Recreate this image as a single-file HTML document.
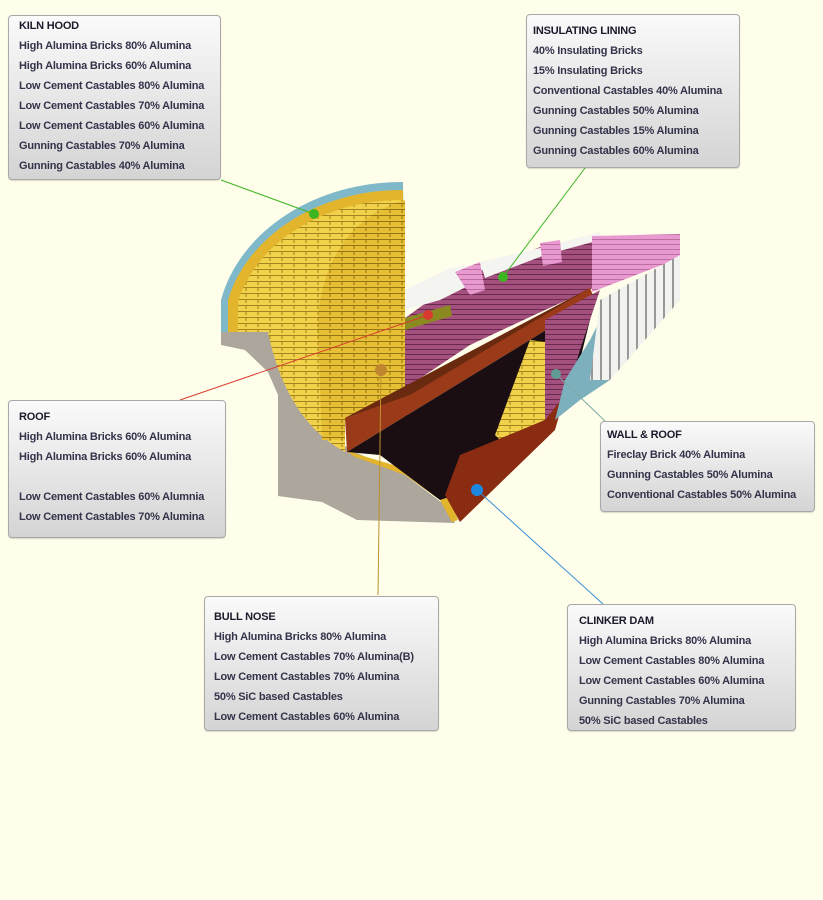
<!DOCTYPE html>
<html><head><meta charset="utf-8"><style>
html,body{margin:0;padding:0;background:#fffeea;}
body{width:823px;height:900px;position:relative;overflow:hidden;font-family:"Liberation Sans",sans-serif;}
.box{position:absolute;box-sizing:border-box;border:1px solid #a8a8a8;border-radius:4px;background:linear-gradient(#fafafa,#d4d4d4);padding:0 0 0 10px;box-shadow:0 1px 1px rgba(0,0,0,.15);}
.box div{height:20px;line-height:20px;font-size:11px;font-weight:bold;color:#33334a;white-space:nowrap;letter-spacing:-0.2px;}
.box div.t{font-weight:900;color:#1a1a2a;}
svg{position:absolute;left:0;top:0;}
</style></head><body>
<svg width="823" height="900" viewBox="0 0 823 900">
<defs>
<pattern id="brk" width="12" height="6" patternUnits="userSpaceOnUse"><rect width="12" height="6" fill="#f1d24a"/><path d="M0 5.5H12M6 0V3" stroke="#8a6d10" stroke-width="0.8"/></pattern>
<pattern id="brk2" width="12" height="6" patternUnits="userSpaceOnUse"><rect width="12" height="6" fill="#e6bf34"/><path d="M0 5.5H12M6 0V3" stroke="#7a5d08" stroke-width="0.8"/></pattern>
<pattern id="pbrk" width="10" height="5" patternUnits="userSpaceOnUse"><rect width="10" height="5" fill="#a4507e"/><path d="M0 4.5H10" stroke="#5a2040" stroke-width="0.8"/></pattern>
<pattern id="pink" width="10" height="5" patternUnits="userSpaceOnUse"><rect width="10" height="5" fill="#e89ad0"/><path d="M0 4.5H10" stroke="#a05080" stroke-width="0.6"/></pattern>
<pattern id="fin" width="9" height="9" patternUnits="userSpaceOnUse"><rect width="9" height="9" fill="#f2f2ee"/><path d="M7 0V9" stroke="#999" stroke-width="2"/></pattern>
</defs>
<!-- gray base -->
<path d="M221,330 L221,345 L245,350 L268,372 L278,395 L278,496 L322,502 L357,520 L455,523 L445,505 L405,475 L355,452 L335,440 L320,420 L300,390 L285,360 L268,332 Z" fill="#aca69c"/>
<!-- hood -->
<path d="M221,332 L221,300 A185,150 0 0 1 403,182 L405,332 Z" fill="#7fb8c8"/>
<path d="M228,332 L228,300 A178,143 0 0 1 403,190 L405,332 Z" fill="#e3b52c"/>
<path d="M238,332 L238,302 A168,133 0 0 1 403,200 L405,332 Z" fill="url(#brk)"/>
<!-- front arch lower fill -->
<path d="M268,332 L322,332 L322,440 L345,440 L345,452 C305,430 280,390 268,332 Z" fill="url(#brk)"/>
<!-- back wall -->
<path d="M405,200 C352,215 318,262 318,330 L322,440 L345,440 L345,420 L405,390 Z" fill="url(#brk2)"/>
<!-- lower arc (yellow) near base -->
<path d="M345,450 L360,455 L410,470 L450,500 L458,520 L452,522 L440,500 L405,475 L355,457 Z" fill="#e3b52c"/>
<!-- purple wall -->
<path d="M405,318 L430,300 L470,275 L545,245 L600,238 L600,285 L545,310 L470,345 L410,385 L405,440 Z" fill="url(#pbrk)"/>
<!-- top white & pink blocks -->
<path d="M405,290 L450,268 L470,265 L480,280 L440,300 L405,310 Z" fill="#f4f4f0"/>
<path d="M455,272 L480,262 L485,290 L470,295 Z" fill="url(#pink)"/>
<path d="M480,262 L540,248 L600,232 L600,240 L545,255 L485,278 Z" fill="#f4f4f0"/>
<path d="M540,243 L560,240 L562,262 L543,266 Z" fill="url(#pink)"/>
<path d="M592,236 L680,234 L680,258 L592,292 Z" fill="url(#pink)"/>
<!-- olive strip -->
<path d="M405,318 L450,305 L452,316 L405,330 Z" fill="#8a8a20"/>
<!-- brown beam -->
<path d="M345,418 L590,288 L595,300 L347,452 Z" fill="#9a3a18"/>
<path d="M345,418 L590,288 L600,282 L410,395 Z" fill="#6a2a10"/>
<!-- dark interior -->
<path d="M347,452 L595,300 L575,380 L545,430 L470,490 L440,500 L380,455 Z" fill="#1a0e12"/>
<!-- yellow inner block -->
<path d="M495,435 L530,340 L545,342 L545,420 L500,440 Z" fill="url(#brk)"/>
<!-- purple inner wall -->
<path d="M545,320 L600,290 L580,350 L565,400 L545,420 Z" fill="url(#pbrk)"/>
<!-- lower brown -->
<path d="M445,495 L460,455 L545,420 L565,395 L555,430 L460,522 Z" fill="#8a2c12"/>
<!-- teal wall -->
<path d="M555,420 L565,380 L590,340 L605,310 L610,380 L580,400 Z" fill="#7cb0bc"/>
<!-- fins -->
<path d="M590,380 L600,300 L680,255 L680,300 L610,380 Z" fill="url(#fin)"/>
<!-- connectors -->
<line x1="221" y1="180" x2="314" y2="214" stroke="#3cb521" stroke-width="1"/>
<line x1="585" y1="168" x2="503" y2="277" stroke="#3cb521" stroke-width="1"/>
<line x1="180" y1="400" x2="428" y2="315" stroke="#d83a30" stroke-width="1"/>
<line x1="378" y1="595" x2="381" y2="370" stroke="#c0902e" stroke-width="1"/>
<line x1="605" y1="421" x2="556" y2="374" stroke="#7aaaa8" stroke-width="1"/>
<line x1="603" y1="604" x2="477" y2="490" stroke="#3a90d8" stroke-width="1"/>
<circle cx="314" cy="214" r="5" fill="#3cb521"/>
<circle cx="503" cy="277" r="5" fill="#3cb521"/>
<circle cx="428" cy="315" r="5" fill="#d83a30"/>
<circle cx="381" cy="370" r="6" fill="#c0862e"/>
<circle cx="556" cy="374" r="5" fill="#5f9a94"/>
<circle cx="477" cy="490" r="6" fill="#1e88e0"/>
</svg>
<div class="box" style="left:8px;top:15px;width:213px;height:165px;padding-top:0"><div class="t">KILN HOOD</div><div>High Alumina Bricks 80% Alumina</div><div>High Alumina Bricks 60% Alumina</div><div>Low Cement Castables 80% Alumina</div><div>Low Cement Castables 70% Alumina</div><div>Low Cement Castables 60% Alumina</div><div>Gunning Castables 70% Alumina</div><div>Gunning Castables 40% Alumina</div></div>
<div class="box" style="left:526px;top:14px;width:214px;height:154px;padding-top:6px;padding-left:6px"><div class="t">INSULATING LINING</div><div>40% Insulating Bricks</div><div>15% Insulating Bricks</div><div>Conventional Castables 40% Alumina</div><div>Gunning Castables 50% Alumina</div><div>Gunning Castables 15% Alumina</div><div>Gunning Castables 60% Alumina</div></div>
<div class="box" style="left:8px;top:400px;width:218px;height:138px;padding-top:6px"><div class="t">ROOF</div><div>High Alumina Bricks 60% Alumina</div><div>High Alumina Bricks 60% Alumina</div><div></div><div>Low Cement Castables 60% Alumnia</div><div>Low Cement Castables 70% Alumina</div></div>
<div class="box" style="left:600px;top:421px;width:215px;height:91px;padding-top:3px;padding-left:6px"><div class="t">WALL &amp; ROOF</div><div>Fireclay Brick 40% Alumina</div><div>Gunning Castables 50% Alumina</div><div>Conventional Castables 50% Alumina</div></div>
<div class="box" style="left:204px;top:596px;width:235px;height:135px;padding-top:10px;padding-left:9px"><div class="t">BULL NOSE</div><div>High Alumina Bricks 80% Alumina</div><div>Low Cement Castables 70% Alumina(B)</div><div>Low Cement Castables 70% Alumina</div><div>50% SiC based Castables</div><div>Low Cement Castables 60% Alumina</div></div>
<div class="box" style="left:567px;top:604px;width:229px;height:127px;padding-top:6px;padding-left:11px"><div class="t">CLINKER DAM</div><div>High Alumina Bricks 80% Alumina</div><div>Low Cement Castables 80% Alumina</div><div>Low Cement Castables 60% Alumina</div><div>Gunning Castables 70% Alumina</div><div>50% SiC based Castables</div></div>
</body></html>
